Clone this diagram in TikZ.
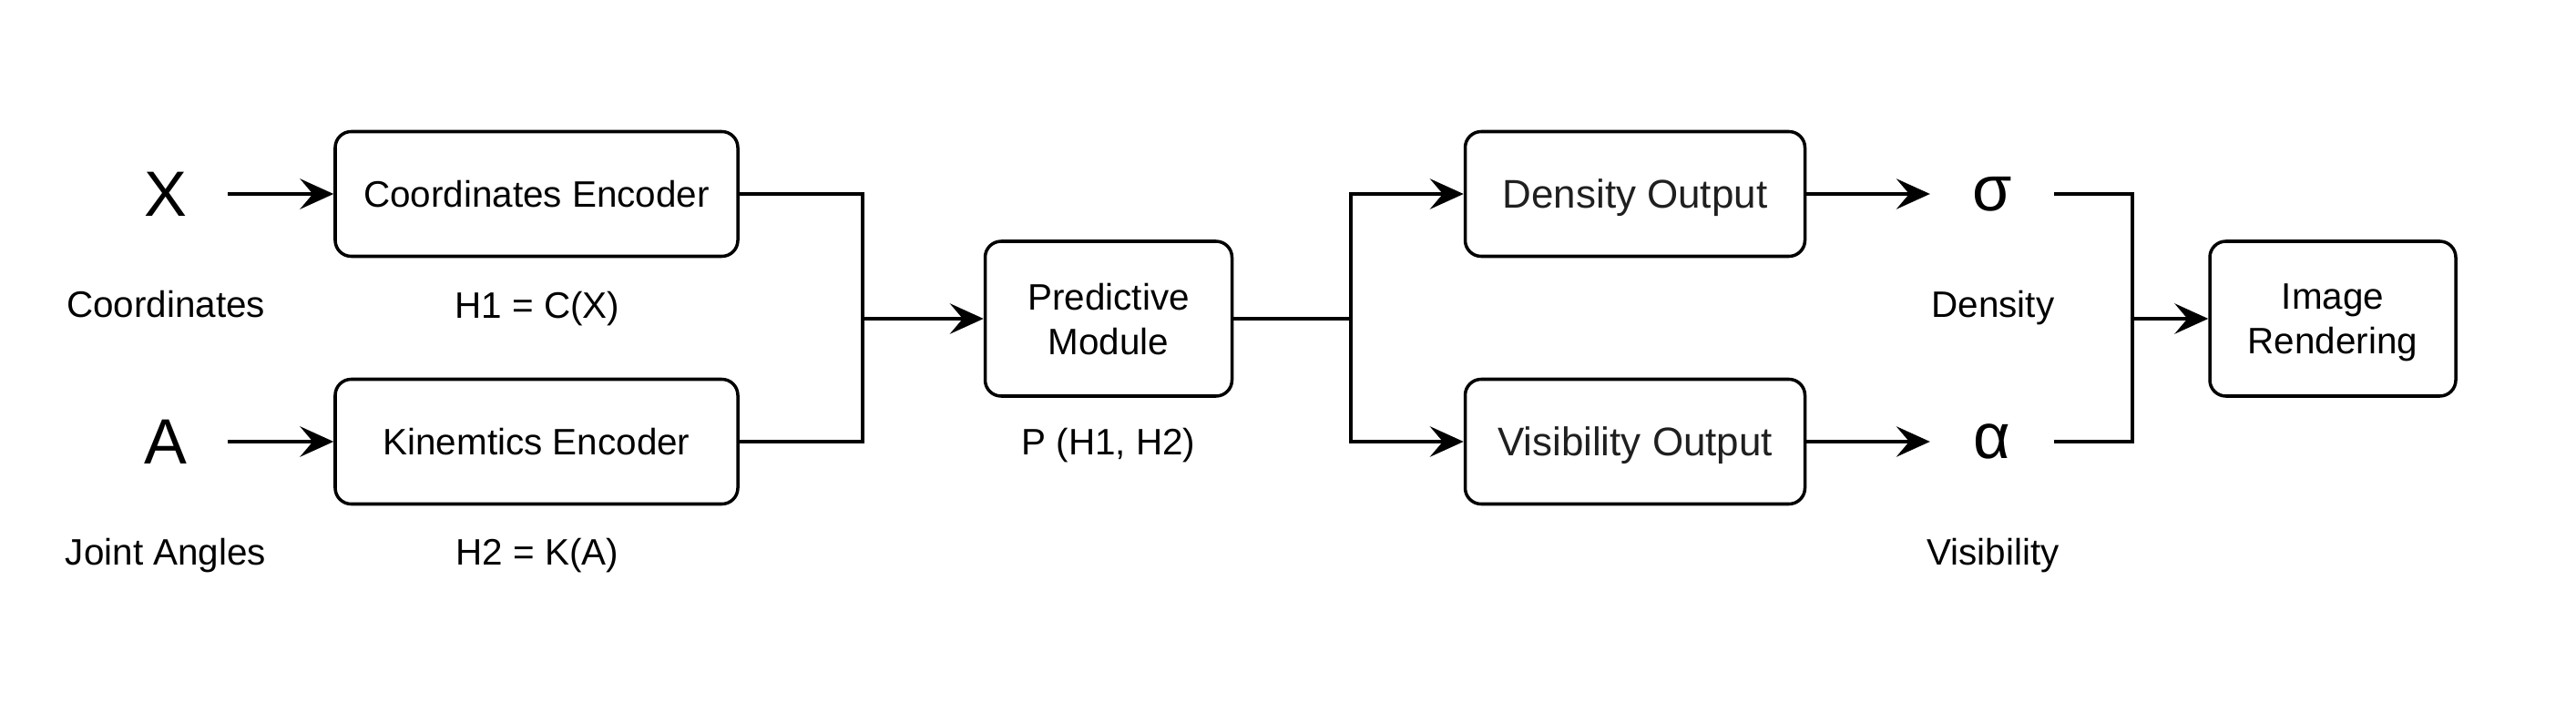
\documentclass[tikz,border=0pt]{standalone}
\usepackage{fontspec}
\setmainfont{Liberation Sans}
\usepackage{xcolor}
\usepackage{tikz}
\usetikzlibrary{arrows.meta,positioning,calc}
\definecolor{pdLine}{HTML}{000000}
\definecolor{pdText}{HTML}{1F1F1F}

\begin{document}
\begin{tikzpicture}[
  x=1cm,y=-1cm,
  box/.style={draw=pdLine,line width=1pt,rounded corners=5pt,text depth=0pt,
    align=center,font=\fontsize{11.5}{13.9}\selectfont,inner sep=0pt},
  outbox/.style={box,minimum width=3.73cm,minimum height=1.37cm,
    font=\fontsize{12.5}{15}\selectfont,text=pdText},
  sym/.style={font=\fontsize{20}{24}\selectfont,minimum width=1.35cm,inner sep=0pt},
  lbl/.style={font=\fontsize{11.5}{13.9}\selectfont,inner sep=0pt,text depth=0pt},
  ln/.style={draw=pdLine,line width=1pt},
  ar/.style={ln,-{Stealth[length=10.5pt,width=9.5pt,inset=4pt]}}
]
\useasboundingbox (0,0) rectangle (28.28,7.94);

% inputs
\node[sym] (x) at (1.82,2.13) {X};
\node[lbl] (xl) at (1.82,3.34) {Coordinates};
\node[sym] (a) at (1.82,4.85) {A};
\node[lbl] (al) at (1.82,6.06) {Joint Angles};

% encoders
\node[box,minimum width=4.42cm,minimum height=1.37cm] (ce) at (5.89,2.13) {Coordinates Encoder};
\node[lbl] (h1) at (5.90,3.35) {H1 = C(X)};
\node[box,minimum width=4.42cm,minimum height=1.37cm] (ke) at (5.89,4.85) {Kinemtics Encoder};
\node[lbl] (h2) at (5.90,6.06) {H2 = K(A)};

% predictive module
\node[box,minimum width=2.71cm,minimum height=1.70cm] (pm) at (12.17,3.50) {Predictive\\Module};
\node[lbl] (pl) at (12.17,4.85) {P (H1, H2)};

% outputs
\node[outbox] (do) at (17.95,2.13) {Density Output};
\node[outbox] (vo) at (17.95,4.85) {Visibility Output};
\node[sym] (sg) at (21.87,2.13) {σ};
\node[lbl] (sl) at (21.88,3.34) {Density};
\node[sym] (al2) at (21.87,4.85) {α};
\node[lbl] (vl) at (21.88,6.06) {Visibility};

% rendering
\node[box,minimum width=2.70cm,minimum height=1.70cm] (ir) at (25.61,3.50) {Image\\Rendering};

\coordinate (j1) at (9.47,3.50);
\coordinate (j2) at (14.83,3.50);
\coordinate (j3) at (23.41,3.50);

\draw[ar] (x) -- (ce); \draw[ar] (a) -- (ke);
\draw[ln] (ce.east) -| (j1); \draw[ln] (ke.east) -| (j1);
\draw[ar] (j1) -- (pm.west);
\draw[ln] (pm.east) -- (j2);
\draw[ar] (j2) |- (do.west); \draw[ar] (j2) |- (vo.west);
\draw[ar] (do) -- (sg); \draw[ar] (vo) -- (al2);
\draw[ln] (sg.east) -| (j3); \draw[ln] (al2.east) -| (j3);
\draw[ar] (j3) -- (ir.west);
\end{tikzpicture}
\end{document}
